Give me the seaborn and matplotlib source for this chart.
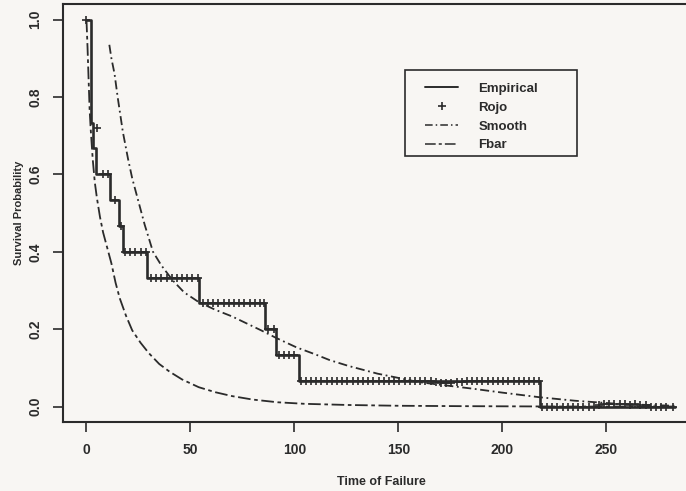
import numpy as np
import pandas as pd
import matplotlib.pyplot as plt
from matplotlib.lines import Line2D
from matplotlib.patches import Rectangle
import seaborn as sns

# Kaplan-Meier style empirical survival (step function)
emp_time = [0, 2, 3, 4.5, 11.5, 15.5, 17.5, 29, 54, 86, 91, 102, 218, 283]
emp_surv = [1.0, 0.733, 0.667, 0.6, 0.533, 0.467, 0.4, 0.333, 0.267, 0.2,
            0.133, 0.067, 0.0, 0.0]

# Rojo estimate, read off the + marks
rojo_time = [0, 5, 8, 10.5, 13.5, 16.5,
             18.5, 21, 23.5, 26, 28.5,
             31, 33.5, 36, 38.5, 41, 43.5, 46, 48.5, 51, 53.5,
             56, 58.5, 61, 63.5, 66, 68.5, 71, 73.5, 76, 78.5, 81, 83.5, 85.5,
             87.5, 90,
             92.5, 95, 97.5, 100,
             103, 105.5, 108, 110.5, 113, 115.5, 118, 120.5, 123, 125.5,
             128, 130.5, 133, 135.5, 138, 140.5, 143, 145.5, 148, 150.5,
             153, 155.5, 158, 160.5, 163, 165.5, 168, 170.5, 173, 175.5,
             178, 180.5, 183, 185.5, 188, 190.5, 193, 195.5, 198, 200.5,
             203, 205.5, 208, 210.5, 213, 215.5, 217.5,
             219, 221.5, 224, 226.5, 229, 231.5, 234, 236.5, 239, 241.5,
             244, 246.5, 249, 251.5, 254, 256.5, 259, 261.5, 264, 266.5,
             269, 271.5, 274, 276.5, 279, 282]
rojo_surv = ([1.0, 0.72, 0.6, 0.6, 0.533, 0.467]
             + [0.4] * 5 + [0.333] * 10 + [0.267] * 13 + [0.2] * 2 + [0.133] * 4
             + [0.067] * 26
             + [0.064, 0.062, 0.061, 0.062, 0.063, 0.064]
             + [0.067] * 15
             + [0.0] * 11
             + [0.004, 0.006, 0.006, 0.007, 0.006, 0.006, 0.005, 0.006, 0.005, 0.004]
             + [0.0] * 5)

# smooth estimate
smooth_time = [11, 12, 13.5, 15, 17.5, 20, 22, 25, 28, 32, 36, 41.5, 47, 54,
               62, 70, 77, 84, 91, 101, 110, 117, 126, 140, 160, 186, 200,
               218, 235, 253, 270, 283]
smooth_surv = [0.935, 0.90, 0.86, 0.80, 0.71, 0.64, 0.59, 0.53, 0.47, 0.40,
               0.365, 0.326, 0.295, 0.27, 0.25, 0.233, 0.215, 0.197, 0.178,
               0.153, 0.135, 0.12, 0.105, 0.085, 0.063, 0.046, 0.036, 0.024,
               0.015, 0.008, 0.004, 0.002]

# Fbar
fbar_time = [0, 0.5, 1, 1.5, 2, 3, 4, 5, 6.5, 8, 10, 12, 14, 16, 19, 22, 26,
             30, 35, 40, 46, 54, 62, 70, 80, 92, 105, 126, 150, 180, 230, 283]
fbar_surv = [1.0, 0.93, 0.85, 0.77, 0.72, 0.64, 0.58, 0.54, 0.49, 0.45, 0.41,
             0.37, 0.32, 0.28, 0.235, 0.197, 0.165, 0.138, 0.11, 0.09, 0.07,
             0.05, 0.037, 0.027, 0.018, 0.011, 0.007, 0.004, 0.002, 0.001,
             0.0, 0.0]

sns.set_style('ticks')
plt.rcParams['font.family'] = ['Liberation Sans', 'DejaVu Sans']
ink = '#2b2b2b'
paper = '#f8f6f3'
smooth_ls = (0, (5, 2, 1, 2))
fbar_ls = (0, (7, 2, 2, 2))

fig = plt.figure(figsize=(6.86, 4.91), dpi=100)
fig.patch.set_facecolor(paper)
ax = fig.add_axes([0.0918, 0.1405, 0.927, 0.851])
ax.set_facecolor(paper)

sns.lineplot(x=emp_time, y=emp_surv, ax=ax, color=ink, lw=1.9,
             drawstyle='steps-post', estimator=None, sort=False)
sns.scatterplot(x=rojo_time, y=rojo_surv, ax=ax, marker='+', s=40,
                color=ink, linewidth=1.2)
sns.lineplot(x=smooth_time, y=smooth_surv, ax=ax, color=ink, lw=1.3,
             linestyle=smooth_ls, estimator=None, sort=False)
sns.lineplot(x=fbar_time, y=fbar_surv, ax=ax, color=ink, lw=1.3,
             linestyle=fbar_ls, estimator=None, sort=False)

ax.set_xlim(-11.3, 294.6)
ax.set_ylim(-0.04, 1.04)
ax.set_xticks([0, 50, 100, 150, 200, 250])
ax.set_yticks([0, 0.2, 0.4, 0.6, 0.8, 1.0])
ax.set_yticklabels(['0.0', '0.2', '0.4', '0.6', '0.8', '1.0'],
                   rotation=90, va='center')
ax.tick_params(length=7, width=1.2, color=ink, labelsize=10, pad=8,
               labelcolor=ink)
for lab in ax.get_xticklabels() + ax.get_yticklabels():
    lab.set_fontweight('bold')
for sp in ax.spines.values():
    sp.set_visible(True)
    sp.set_linewidth(1.5)
    sp.set_color(ink)

ax.set_xlabel('Time of Failure', fontsize=9, fontweight='bold', color=ink,
              labelpad=14)
ax.set_ylabel('Survival Probability', fontsize=8, fontweight='bold', color=ink,
              labelpad=3)

# legend box, R style: frame drawn separately, wider than its contents
ax.add_patch(Rectangle((0.538, 0.636), 0.27, 0.206, transform=ax.transAxes,
                       facecolor=paper, edgecolor=ink, lw=1.2, zorder=5))
handles = [
    Line2D([], [], color=ink, lw=1.4),
    Line2D([], [], color=ink, lw=0, marker='+', markersize=6, mew=1.2),
    Line2D([], [], color=ink, lw=1.1, linestyle=smooth_ls),
    Line2D([], [], color=ink, lw=1.1, linestyle=fbar_ls),
]
leg = ax.legend(handles, ['Empirical', 'Rojo', 'Smooth', 'Fbar'],
                loc='upper left', bbox_to_anchor=(0.57, 0.812),
                fontsize=9.5, frameon=False, handlelength=2.5,
                handletextpad=1.5, labelspacing=0.5, borderpad=0,
                borderaxespad=0)
leg.set_zorder(6)
for t in leg.get_texts():
    t.set_color(ink)
    t.set_fontweight('bold')

fig.savefig('out.png', dpi=100, facecolor=fig.get_facecolor())
